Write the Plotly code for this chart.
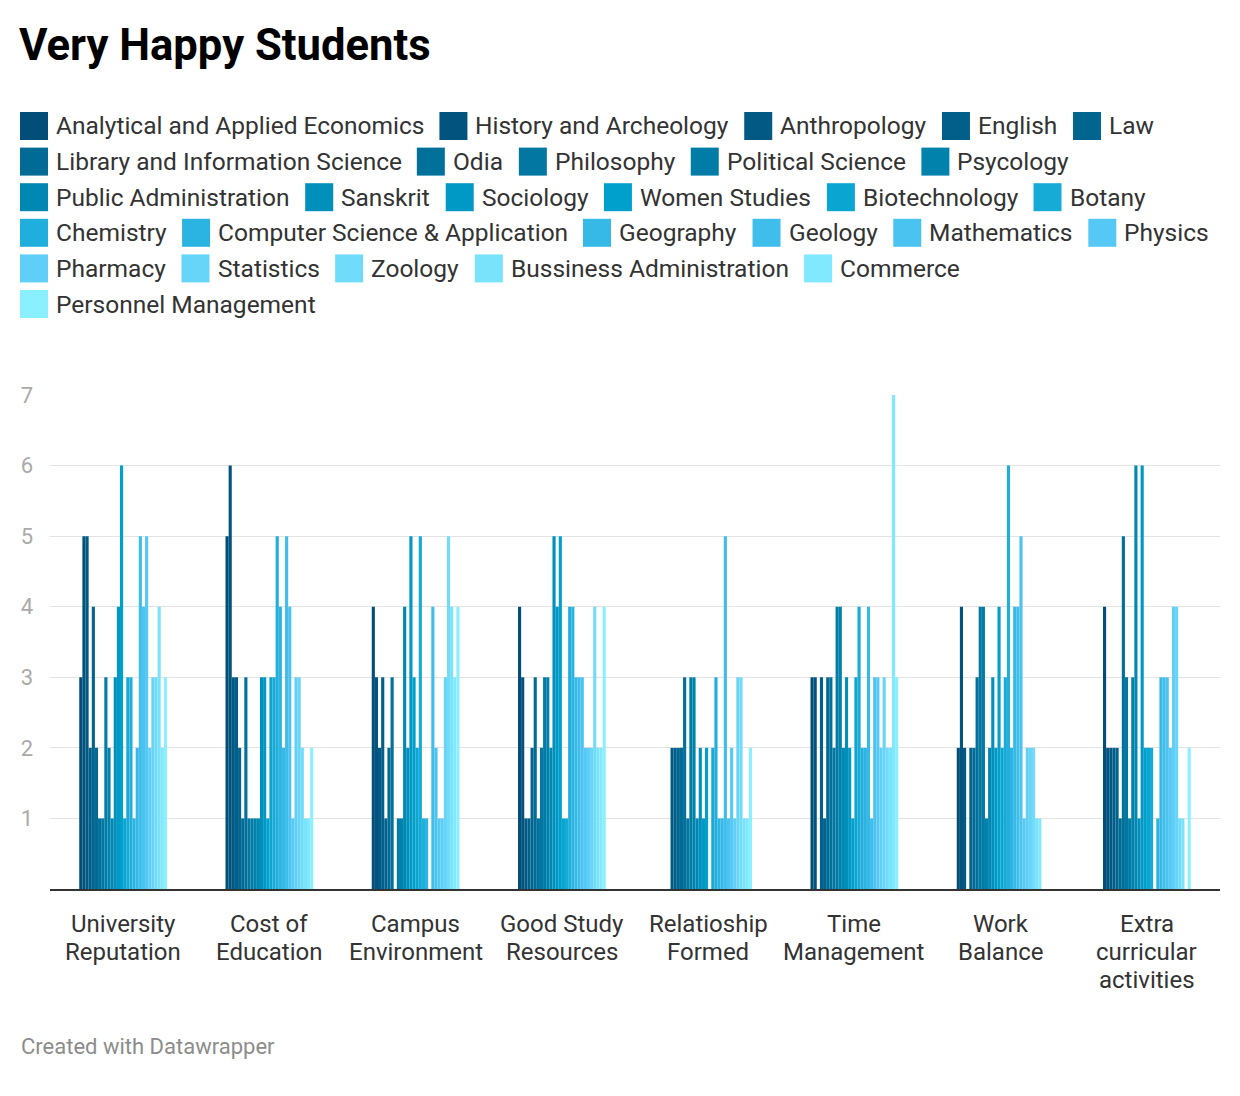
import plotly.graph_objects as go

# ---------------- data ----------------
categories = ["University<br>Reputation", "Cost of<br>Education", "Campus<br>Environment",
              "Good Study<br>Resources", "Relatioship<br>Formed", "Time<br>Management",
              "Work<br>Balance", "Extra<br>curricular<br>activities"]

subjects = ["Analytical and Applied Economics", "History and Archeology", "Anthropology", "English",
            "Law", "Library and Information Science", "Odia", "Philosophy", "Political Science",
            "Psycology", "Public Administration", "Sanskrit", "Sociology", "Women Studies",
            "Biotechnology", "Botany", "Chemistry", "Computer Science & Application", "Geography",
            "Geology", "Mathematics", "Physics", "Pharmacy", "Statistics", "Zoology",
            "Bussiness Administration", "Commerce", "Personnel Management"]

# values per category, one entry per subject (same order as `subjects`)
university_reputation = [3, 5, 5, 2, 4, 2, 1, 1, 3, 2, 1, 3, 4, 6, 1, 3, 3, 1, 2, 5, 4, 5, 2, 3, 3, 4, 2, 3]
cost_of_education = [5, 6, 3, 3, 2, 1, 3, 1, 1, 1, 1, 3, 3, 1, 3, 3, 5, 4, 2, 5, 4, 1, 3, 3, 2, 1, 1, 2]
campus_environment = [4, 3, 2, 3, 1, 2, 3, 0, 1, 1, 4, 2, 5, 3, 2, 5, 1, 1, 0, 4, 2, 1, 1, 3, 5, 4, 3, 4]
good_study_resources = [4, 3, 1, 1, 2, 3, 1, 2, 3, 3, 2, 5, 4, 5, 1, 1, 4, 4, 3, 3, 3, 2, 2, 2, 4, 2, 2, 4]
relationship_formed = [0, 0, 2, 2, 2, 2, 3, 1, 3, 3, 1, 2, 1, 2, 0, 2, 3, 1, 1, 5, 1, 2, 1, 3, 3, 1, 1, 2]
time_management = [3, 3, 0, 3, 1, 3, 3, 2, 4, 4, 2, 3, 2, 1, 3, 4, 2, 2, 4, 1, 3, 3, 2, 3, 2, 2, 7, 3]
work_balance = [2, 4, 2, 0, 2, 2, 3, 4, 4, 1, 2, 3, 2, 4, 2, 3, 6, 2, 4, 4, 5, 1, 2, 2, 2, 1, 1, 0]
extra_curricular = [4, 2, 2, 2, 2, 1, 5, 3, 1, 3, 6, 1, 6, 2, 2, 2, 0, 1, 3, 3, 3, 2, 4, 4, 1, 1, 0, 2]

y_ticks = [1, 2, 3, 4, 5, 6, 7]

category_values = [university_reputation, cost_of_education, campus_environment, good_study_resources,
                   relationship_formed, time_management, work_balance, extra_curricular]

# ---------------- styling ----------------
W, H = 1240, 1096
PL, PR, PT, PB = 50, 20, 395, 207
PW, PH = W - PL - PR, H - PT - PB
FONT = "Roboto"

anchors = [(0, (2, 78, 120)), (10, (0, 136, 178)), (13, (0, 160, 205)),
           (21, (86, 200, 245)), (27, (138, 240, 255))]


def grad(i):
    for (i0, c0), (i1, c1) in zip(anchors[:-1], anchors[1:]):
        if i0 <= i <= i1:
            t = (i - i0) / (i1 - i0)
            return "rgb(%d,%d,%d)" % tuple(round(a + (b - a) * t) for a, b in zip(c0, c1))
    return "rgb(%d,%d,%d)" % anchors[-1][1]


colors = [grad(i) for i in range(len(subjects))]

fig = go.Figure()
for i, name in enumerate(subjects):
    fig.add_trace(go.Bar(
        x=categories, y=[vals[i] for vals in category_values], name=name,
        marker=dict(color=colors[i], line=dict(width=0)),
        showlegend=False,
    ))


def px_x(px):
    return (px - PL) / PW


def px_y(py):
    return (PT + PH - py) / PH


# approximate Roboto Regular advance widths (units / 2048)
RW = {' ': 498, '&': 1245, 'A': 1336, 'B': 1275, 'C': 1333, 'D': 1343, 'E': 1164, 'F': 1132,
      'G': 1395, 'H': 1460, 'I': 557, 'L': 1102, 'M': 1788, 'O': 1408, 'P': 1292, 'S': 1217,
      'T': 1221, 'W': 1815, 'Z': 1226, 'a': 1088, 'b': 1122, 'c': 1046, 'd': 1126, 'e': 1057,
      'f': 696, 'g': 1122, 'h': 1101, 'i': 485, 'j': 477, 'k': 1012, 'l': 485, 'm': 1753,
      'n': 1103, 'o': 1140, 'p': 1122, 'q': 1130, 'r': 677, 's': 1032, 't': 654, 'u': 1101,
      'v': 968, 'w': 1502, 'x': 991, 'y': 947, 'z': 991}
LEG_FS = 24.5
FUDGE = 1.018


def text_w(s, fs):
    return sum(RW.get(ch, 1100) for ch in s) / 2048 * fs * FUDGE


shapes, annotations = [], []
x, row = 20, 0
SW, GAP, ITEM_GAP, ROW_H, Y0 = 28, 8, 16, 35.6, 126
for i, name in enumerate(subjects):
    w = SW + GAP + text_w(name, LEG_FS)
    if x + w > 1232 and x > 20:
        x = 20
        row += 1
    yc = Y0 + row * ROW_H
    shapes.append(dict(type="rect", xref="paper", yref="paper",
                       x0=px_x(x), x1=px_x(x + SW), y0=px_y(yc + SW / 2), y1=px_y(yc - SW / 2),
                       fillcolor=colors[i], line=dict(width=0), layer="above"))
    annotations.append(dict(xref="paper", yref="paper", x=px_x(x + SW + GAP - 2), y=px_y(yc),
                            xanchor="left", yanchor="middle", text=name, showarrow=False,
                            font=dict(family=FONT, size=LEG_FS, color="#333333")))
    x += w + ITEM_GAP

# category labels, one annotation per line for tight line spacing
CAT_Y0, CAT_LH = 924, 28
for cat in categories:
    for j, line in enumerate(cat.split("<br>")):
        annotations.append(dict(xref="x", yref="paper", x=cat, y=px_y(CAT_Y0 + j * CAT_LH),
                                xanchor="center", yanchor="middle", text=line, showarrow=False,
                                font=dict(family=FONT, size=24, color="#333333")))

annotations.append(dict(xref="paper", yref="paper", x=px_x(19), y=px_y(1046), xanchor="left",
                        yanchor="middle", text="Created with Datawrapper", showarrow=False,
                        font=dict(family=FONT, size=22, color="#8c8c8c")))

fig.update_layout(
    width=W, height=H,
    margin=dict(l=PL, r=PR, t=PT, b=PB, pad=0),
    paper_bgcolor="white", plot_bgcolor="white",
    barmode="group", bargap=0.4, bargroupgap=0,
    title=dict(text="Very Happy Students", x=19 / W, xanchor="left", xref="container",
               y=1 - 45 / H, yanchor="middle", yref="container",
               font=dict(family=FONT, size=43.6, color="#000000", weight=700)),
    font=dict(family=FONT),
    shapes=shapes, annotations=annotations,
    xaxis=dict(showline=True, linecolor="#333333", linewidth=2, ticks="", showgrid=False,
               showticklabels=False, fixedrange=True),
    yaxis=dict(range=[0, 7], tickvals=y_ticks, showgrid=True, gridcolor="#e3e3e3", gridwidth=1,
               zeroline=False, showline=False, ticks="", ticklabelstandoff=16,
               tickfont=dict(family=FONT, size=22, color="#aaaaaa"), fixedrange=True),
)

fig.write_html("out.html", config={"displayModeBar": False},
               post_script="document.body.style.margin='0';")
